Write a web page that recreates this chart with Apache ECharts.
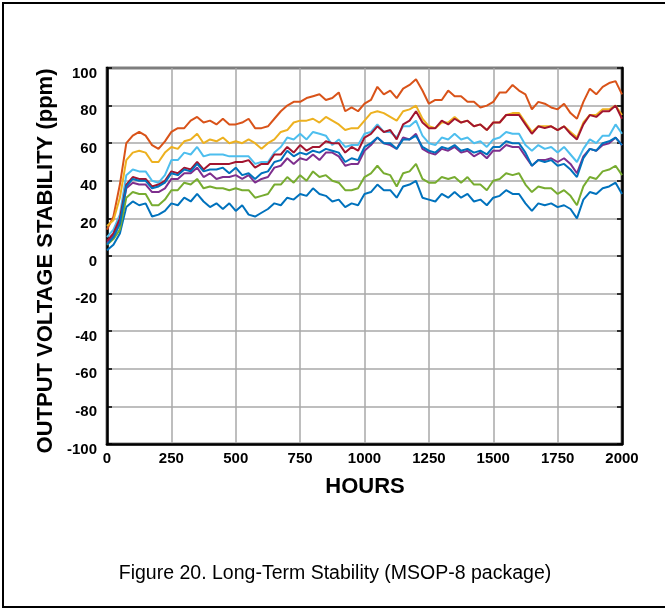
<!DOCTYPE html>
<html>
<head>
<meta charset="utf-8">
<script src="https://cdn.jsdelivr.net/npm/echarts@6/dist/echarts.min.js"></script>
<style>
  html, body { margin: 0; padding: 0; background: #fff; }
  #chart { width: 665px; height: 610px; }
</style>
</head>
<body>
<div id="chart"></div>
<script>
// hours, one sample every 25 h
var hours = [];
for (var h = 0; h <= 2000; h += 25) hours.push(h);

var yTicks = [-100, -80, -60, -40, -20, 0, 20, 40, 60, 80, 100];
var xTicks = [0, 250, 500, 750, 1000, 1250, 1500, 1750, 2000];

// drift in ppm
var blueLow = [3,6,12,26,29,27,28,21,22,24,28,27,31,29,33,29,26,28,25,28,24,27,22,21,23,25,28,27,31,30,33,32,36,33,32,29,30,26,28,27,
  33,34,38,35,35,31,37,38,40,31,30,29,33,31,34,31,33,29,30,27,31,32,35,33,33,28,24,28,27,28,26,27,25,20,30,34,33,36,37,39,33];
var orange = [14,21,38,60,64,66,64,59,57,61,66,68,68,72,74,71,72,70,73,70,70,71,73,68,68,69,73,77,80,82,82,84,85,86,83,84,87,77,79,77,
  81,83,90,86,88,84,89,91,94,88,81,83,83,88,85,85,82,82,79,80,82,87,87,91,88,86,78,82,81,79,78,81,76,73,82,89,86,90,92,93,86];
var yellow = [16,19,31,51,55,56,55,50,50,55,58,57,61,62,65,60,62,61,63,60,61,60,62,60,57,60,62,66,67,71,72,72,73,71,74,72,70,67,68,68,
  72,76,77,76,74,72,77,78,80,73,69,68,71,71,74,71,72,69,70,67,71,71,75,76,76,71,66,69,69,69,67,69,66,63,71,75,75,78,78,80,75];
var purple = [7,11,18,36,39,38,38,34,34,36,41,41,44,44,47,42,44,41,42,42,43,41,43,39,41,42,47,48,52,49,52,51,54,51,55,55,53,48,49,49,
  56,59,63,60,59,57,63,62,65,57,55,54,57,56,58,55,56,53,55,52,56,56,59,58,58,53,48,51,51,52,50,52,49,44,53,57,56,59,60,63,59];
var green = [6,9,14,31,34,33,33,27,27,30,35,35,39,38,41,36,37,36,36,35,36,35,35,31,32,33,38,38,42,39,43,40,45,42,43,40,39,35,35,36,
  42,44,48,44,43,37,44,45,49,41,39,39,42,41,42,39,42,38,38,35,40,41,44,43,44,38,34,37,36,36,33,35,32,27,37,42,41,45,46,48,43];
var lightBlue = [10,14,22,43,46,45,45,40,39,43,51,51,55,54,58,53,54,54,54,53,53,53,53,49,50,50,55,58,63,62,65,62,66,65,64,59,62,58,59,59,
  65,66,70,66,66,63,69,69,72,64,60,59,63,62,65,62,63,60,61,58,62,63,66,65,65,59,56,59,57,58,55,58,54,50,57,62,60,64,64,70,65];
var darkRed = [8,12,20,38,42,41,41,37,38,40,45,44,47,46,50,46,49,49,49,49,50,50,51,47,49,49,54,54,58,55,59,56,58,58,61,60,60,55,58,56,
  63,65,69,66,67,62,70,72,77,71,68,68,72,70,73,71,72,69,70,67,71,71,75,75,75,70,65,69,68,69,67,69,65,62,70,75,74,77,77,80,73];
var blueMid = [6,10,17,37,41,40,40,36,37,39,44,43,46,45,49,45,46,46,47,44,47,43,44,41,44,45,50,51,56,53,55,54,56,55,57,56,55,50,52,51,
  58,60,63,60,60,57,62,62,64,58,56,55,58,57,59,56,57,55,56,54,58,58,61,60,60,55,48,51,50,51,48,49,46,42,52,57,56,60,61,63,59];

var seriesList = [
  { name: 'S1', values: blueLow, color: '#0072BD' },
  { name: 'S2', values: orange, color: '#D95319' },
  { name: 'S3', values: yellow, color: '#EDB120' },
  { name: 'S4', values: purple, color: '#7E2F8E' },
  { name: 'S5', values: green, color: '#77AC30' },
  { name: 'S6', values: lightBlue, color: '#4DBEEE' },
  { name: 'S7', values: darkRed, color: '#A2142F' },
  { name: 'S8', values: blueMid, color: '#0072BD' }
];

var chart = echarts.init(document.getElementById('chart'));

var labelFont = { color: '#000', fontFamily: 'Liberation Sans, Arial, sans-serif', fontWeight: 'bold', fontSize: 15 };

var option = {
  animation: false,
  backgroundColor: '#fff',
  grid: {
    left: 107, top: 68, width: 515, height: 376,
    show: true, borderColor: '#000', borderWidth: 2.5, backgroundColor: 'transparent'
  },
  xAxis: {
    type: 'value', min: xTicks[0], max: xTicks[xTicks.length - 1], interval: 250,
    axisLine: { onZero: false, lineStyle: { color: '#000', width: 2.5 } },
    axisTick: { show: false },
    axisLabel: Object.assign({ margin: 7, formatter: function (v) { return String(v); } }, labelFont),
    splitLine: { lineStyle: { color: '#a8a8a8', width: 1.5 } }
  },
  yAxis: [{
    type: 'value', min: yTicks[0], max: yTicks[yTicks.length - 1], interval: 20,
    axisLine: { onZero: false, lineStyle: { color: '#000', width: 2.5 } },
    axisTick: { show: true, inside: true, length: 5, lineStyle: { color: '#000', width: 1.5 } },
    // labels in the original sit a little below their grid lines
    axisLabel: Object.assign({ margin: 10, verticalAlign: 'top', lineHeight: 11 }, labelFont),
    splitLine: { lineStyle: { color: '#a8a8a8', width: 1.5 } }
  }, {
    type: 'value', min: -100, max: 100, interval: 20, position: 'right',
    axisLine: { show: true, onZero: false, lineStyle: { color: '#000', width: 2.5 } },
    axisTick: { show: true, inside: true, length: 5, lineStyle: { color: '#000', width: 1.5 } },
    axisLabel: { show: false },
    splitLine: { show: false }
  }],
  series: seriesList.map(function (s) {
    return {
      name: s.name,
      type: 'line',
      symbol: 'none',
      lineStyle: { color: s.color, width: 2 },
      data: hours.map(function (h, i) { return [h, s.values[i]]; })
    };
  }),
  graphic: [
    {
      type: 'rect', silent: true,
      shape: { x: 3, y: 3, width: 700, height: 604 },
      style: { fill: 'none', stroke: '#000', lineWidth: 2 }
    },
    {
      type: 'text', x: 46, y: 261, rotation: Math.PI / 2,
      style: {
        text: 'OUTPUT VOLTAGE STABILITY (ppm)', fill: '#000',
        font: 'bold 22px "Liberation Sans", Arial, sans-serif',
        align: 'center', verticalAlign: 'middle'
      }
    },
    {
      type: 'text', x: 365, y: 487,
      style: {
        text: 'HOURS', fill: '#000',
        font: 'bold 22px "Liberation Sans", Arial, sans-serif',
        align: 'center', verticalAlign: 'middle'
      }
    },
    {
      type: 'text', x: 335, y: 574,
      style: {
        text: 'Figure 20. Long-Term Stability (MSOP-8 package)', fill: '#000',
        font: '19.5px "Liberation Sans", Arial, sans-serif',
        align: 'center', verticalAlign: 'middle'
      }
    }
  ]
};

chart.setOption(option);
</script>
</body>
</html>
